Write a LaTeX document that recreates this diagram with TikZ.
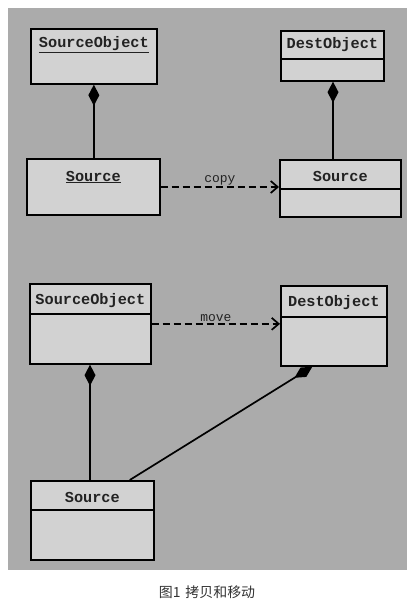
\documentclass[tikz,border=0pt]{standalone}
\usepackage{fontspec}
\setmonofont{Liberation Mono}
\newfontfamily\cjk{Noto Sans CJK SC}
\usetikzlibrary{arrows.meta, calc, positioning}
\definecolor{photogray}{HTML}{ABABAB}
\definecolor{boxgray}{HTML}{D2D2D2}
\definecolor{inkgray}{HTML}{222222}
\definecolor{capgray}{HTML}{333333}

\begin{document}
\begin{tikzpicture}[x=1bp, y=-1bp, every path/.style={line width=1.7bp}]
	\tikzset {draw=inkgray, >=Straight Barb,
		classbox/.style={draw, fill=boxgray, anchor=north west, inner sep=0pt},
		classname/.style={font=\fontsize{15.3}{18}\selectfont\ttfamily\bfseries, text=inkgray, inner sep=0pt},
		compose/.style={-{Diamond[length=21bp, width=11bp]}},
		depend/.style={dashed, dash pattern=on 7bp off 4bp, -{Straight Barb[length=7bp, width=12bp]}} }
	\useasboundingbox (0,0) rectangle (417,606);
	\fill[photogray] (8,8) rectangle (407,570);

	\node[classbox, minimum width=126bp, minimum height=55bp] (so1) at (30,28) {};
	\node[classbox, minimum width=103bp, minimum height=50bp] (do1) at (280,30) {};
	\node[classbox, minimum width=133bp, minimum height=56bp] (s1) at (26,158) {};
	\node[classbox, minimum width=121bp, minimum height=57bp] (s2) at (279,159) {};
	\node[classbox, minimum width=121bp, minimum height=80bp] (so2) at (29,283) {};
	\node[classbox, minimum width=106bp, minimum height=80bp] (do2) at (280,285) {};
	\node[classbox, minimum width=123bp, minimum height=79bp] (s3) at (30,480) {};

	\node[classname] (so1t) at (so1.north |- 0,45) {\underline{SourceObject}};
	\node[classname] (do1t) at (do1.north |- 0,45) {DestObject};
	\node[classname] (s1t) at (s1.north |- 0,177) {\underline{Source}};
	\node[classname] (s2t) at (s2.north |- 0,176) {Source};
	\node[classname] (so2t) at (so2.north |- 0,301) {SourceObject};
	\node[classname] (do2t) at (do2.north |- 0,303) {DestObject};
	\node[classname] (s3t) at (s3.north |- 0,497) {Source};

	\draw (do1.west |- 0,59) -- (do1.east |- 0,59);
	\draw (s2.west |- 0,189) -- (s2.east |- 0,189);
	\draw (so2.west |- 0,314) -- (so2.east |- 0,314);
	\draw (do2.west |- 0,317) -- (do2.east |- 0,317);
	\draw (s3.west |- 0,510) -- (s3.east |- 0,510);

	\coordinate (s3r) at ($(s3.north west)!0.8!(s3.north east)$);
	\coordinate (do2l) at ($(do2.south west)!0.3!(do2.south east)$);

	\draw[compose] (s1.north -| so1.south) -- (so1.south);
	\draw[compose] (s2.north -| 333,0) -- (do1.south -| 333,0);
	\draw[compose] (s3.north -| 90,0) -- (so2.south -| 90,0);
	\draw[compose] (s3r) -- (do2l);

	\draw[depend] (s1.east |- 0,187) -- (s2.west |- 0,187)
		node[midway, above=1bp, classname, font=\fontsize{13}{15}\selectfont\ttfamily] (copyl) {copy};
	\draw[depend] (so2.east) -- (so2.east -| do2.west)
		node[midway, above=1bp, classname, font=\fontsize{13}{15}\selectfont\ttfamily] (movel) {move};

	\node[text=capgray, font=\fontsize{14}{16}\selectfont\cjk] (caption) at (207,592) {图1\hspace{0.35em}拷贝和移动};
\end{tikzpicture}
\end{document}
